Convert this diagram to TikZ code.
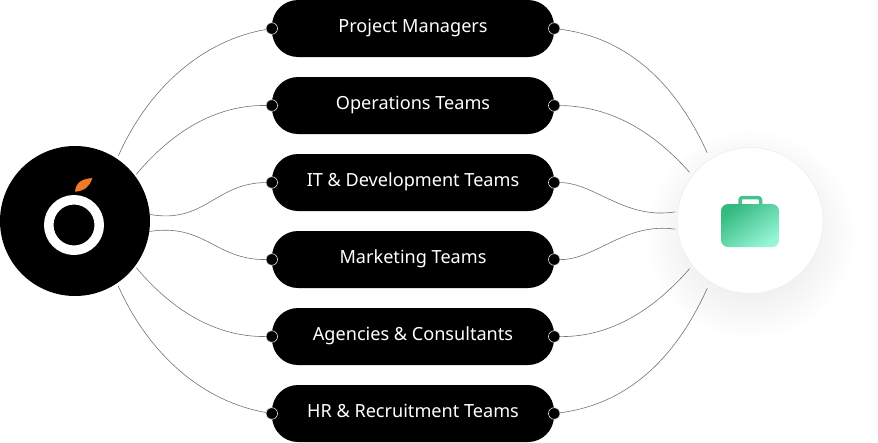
\documentclass[tikz,border=0pt]{standalone}
\usepackage{fontspec}
\setmainfont{Noto Sans}
\definecolor{leaforange}{HTML}{F27A24}
\definecolor{caselight}{HTML}{95F5D6}
\definecolor{casedark}{HTML}{34B97F}
\definecolor{casehandle}{HTML}{48C18E}
\tikzset{
    pill/.style={fill=black, text=white, rounded corners=26pt, minimum width=282pt, minimum height=57pt,
        inner sep=0pt, text height=12pt, text depth=5pt, font=\fontsize{18.1}{20}\selectfont},
    dot/.style={circle, fill=black, draw=black!15, line width=0.6pt, minimum size=11.5pt, inner sep=0pt},
    link/.style={draw=black!55, line width=0.6pt}
}
\begin{document}
\begin{tikzpicture}[x=1pt, y=-1pt, line join=round, line cap=round]
    \useasboundingbox (0,0) rectangle (878,442);

    % Ombre du disque
    \shade[inner color=black!13, outer color=white] (750,234) circle (106);

    % Les deux disques
    \node[circle, fill=black, minimum size=150pt, inner sep=0pt] (orange) at (75,221) {};
    \node[circle, fill=white, draw=black!6, line width=0.8pt, minimum size=146pt, inner sep=0pt] (case) at (750,220.5) {};

    % Les equipes
    \node[pill] (p1) at (413,28.5) {Project Managers};
    \node[pill] (p2) at (413,105.5) {Operations Teams};
    \node[pill] (p3) at (413,182.5) {IT \& Development Teams};
    \node[pill] (p4) at (413,259.5) {Marketing Teams};
    \node[pill] (p5) at (413,336.5) {Agencies \& Consultants};
    \node[pill] (p6) at (413,413.5) {HR \& Recruitment Teams};

    % Points a gauche
    \node[dot] (l1) at (p1.west) {};
    \node[dot] (l2) at (p2.west) {};
    \node[dot] (l3) at (p3.west) {};
    \node[dot] (l4) at (p4.west) {};
    \node[dot] (l5) at (p5.west) {};
    \node[dot] (l6) at (p6.west) {};

    % Points a droite
    \node[dot] (r1) at (p1.east) {};
    \node[dot] (r2) at (p2.east) {};
    \node[dot] (r3) at (p3.east) {};
    \node[dot] (r4) at (p4.east) {};
    \node[dot] (r5) at (p5.east) {};
    \node[dot] (r6) at (p6.east) {};

    % Liens a gauche
    \draw[link, shorten <=3pt] (orange.56) .. controls (150,85) and (205,40) .. (l1);
    \draw[link, shorten <=2pt] (orange.37) .. controls (172,132) and (215,105) .. (l2);
    \draw[link] (orange.5) .. controls (205,224) and (215,183) .. (l3);
    \draw[link] (orange.-8) .. controls (205,223) and (215,260) .. (l4);
    \draw[link, shorten <=2pt] (orange.-37) .. controls (172,310) and (215,337) .. (l5);
    \draw[link, shorten <=3pt] (orange.-56) .. controls (150,357) and (205,402) .. (l6);

    % Liens a droite
    \draw[link, shorten <=7pt] (case.123) .. controls (665,60) and (605,35) .. (r1);
    \draw[link, shorten <=4pt] (case.142) .. controls (645,122) and (600,106) .. (r2);
    \draw[link, shorten <=2pt] (case.173) .. controls (625,220) and (595,183) .. (r3);
    \draw[link, shorten <=2pt] (case.-173) .. controls (625,222) and (595,260) .. (r4);
    \draw[link, shorten <=4pt] (case.-142) .. controls (645,320) and (600,337) .. (r5);
    \draw[link, shorten <=7pt] (case.-123) .. controls (665,382) and (605,407) .. (r6);

    % Le logo
    \node[circle, draw=white, line width=9.5pt, minimum size=50.5pt, inner sep=0pt] (ring) at (74,225) {};
    \fill[leaforange] (75,191.7) .. controls (76,182) and (82,179) .. (92.3,178) .. controls (90,186) and (85,191) .. cycle;

    % La mallette
    \draw[casehandle, line width=3.5pt, rounded corners=2.5pt] (740,205) -- (740,197.5) -- (760.5,197.5) -- (760.5,205);
    \shade[left color=casedark, right color=caselight, shading angle=35, rounded corners=7pt] (721,204) rectangle (779,247);
\end{tikzpicture}
\end{document}
